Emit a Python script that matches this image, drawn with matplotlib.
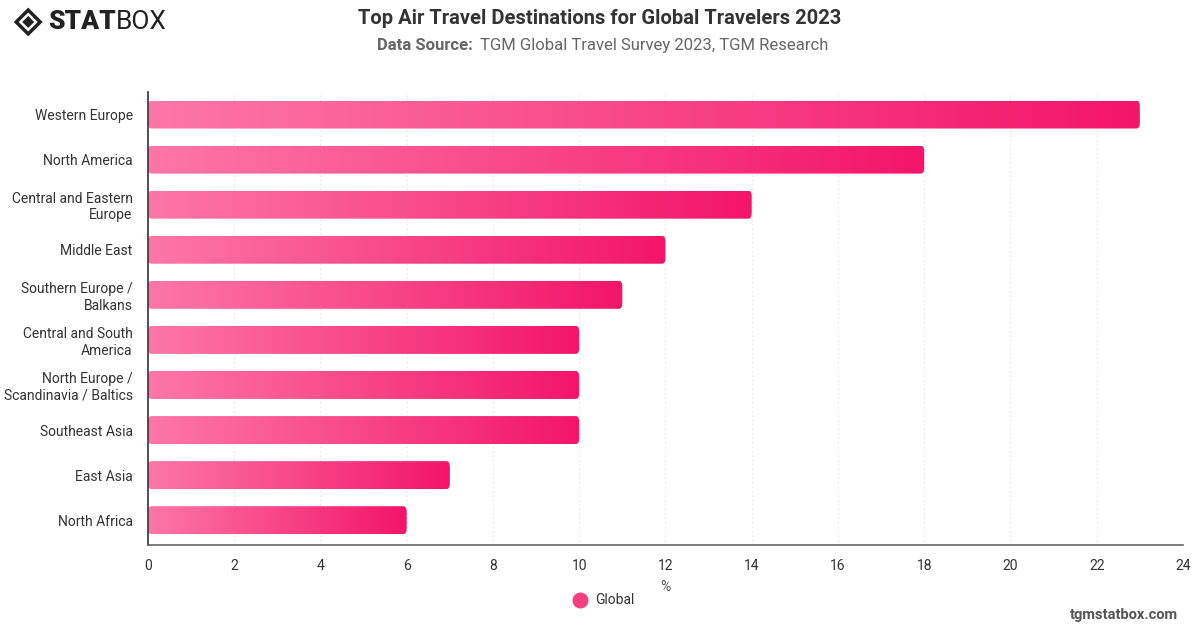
import matplotlib.pyplot as plt
import numpy as np
from matplotlib.colors import LinearSegmentedColormap
from matplotlib.patches import FancyBboxPatch, Polygon

categories = ["Western Europe", "North America", "Central and Eastern\nEurope", "Middle East",
              "Southern Europe /\nBalkans", "Central and South\nAmerica", "North Europe /\nScandinavia / Baltics",
              "Southeast Asia", "East Asia", "North Africa"]
values = [23, 18, 14, 12, 11, 10, 10, 10, 7, 6]
xticks = [0, 2, 4, 6, 8, 10, 12, 14, 16, 18, 20, 22, 24]

plt.rcParams['font.family'] = ['Roboto', 'DejaVu Sans']

fig = plt.figure(figsize=(12, 6.28), dpi=100)
ax = fig.add_axes([0.1233, 0.1322, 0.8625, 0.7213])

cmap = LinearSegmentedColormap.from_list("pinks", ["#fd77a6", "#f3156a"])
grad = np.linspace(0, 1, 256).reshape(1, -1)
bar_h = 0.62

for i, v in enumerate(values):
    # gradient fill clipped to a slightly rounded bar
    patch = FancyBboxPatch((0, i - bar_h / 2), v, bar_h,
                           boxstyle="round,pad=0,rounding_size=0.08",
                           mutation_aspect=1.6,
                           facecolor="none", edgecolor="none")
    ax.add_patch(patch)
    im = ax.imshow(grad, cmap=cmap, aspect="auto",
                   extent=[0, v, i + bar_h / 2, i - bar_h / 2], zorder=2)
    im.set_clip_path(patch)

ax.set_xlim(0, 24)
ax.set_ylim(len(values) - 0.45, -0.5)
ax.set_yticks(range(len(categories)))
ax.set_yticklabels(categories, fontsize=10, color="#333333")
ax.set_xticks(xticks)
ax.set_xticklabels([str(t) for t in xticks], fontsize=10, color="#333333")
ax.tick_params(axis="x", length=0, pad=10)
ax.tick_params(axis="y", length=0, pad=11)
ax.set_xlabel("%", fontsize=10, color="#555555", labelpad=5)

ax.grid(axis="x", color="#dddddd", linestyle=(0, (1, 3)), linewidth=0.8, zorder=0)
ax.set_axisbelow(True)
for s in ["top", "right"]:
    ax.spines[s].set_visible(False)
ax.spines["left"].set_color("#333333")
ax.spines["left"].set_linewidth(1.2)
ax.spines["bottom"].set_color("#666666")
ax.spines["bottom"].set_linewidth(1.2)

# titles
fig.text(0.5, 0.971, "Top Air Travel Destinations for Global Travelers 2023",
         ha="center", va="center", fontsize=14.5, fontweight="bold", color="#333333")
fig.text(0.314, 0.928, "Data Source:", ha="left", va="center", fontsize=12,
         fontweight="bold", color="#666666")
fig.text(0.4, 0.928, "TGM Global Travel Survey 2023, TGM Research", ha="left", va="center",
         fontsize=12, color="#666666")

# legend
ax.scatter([], [], s=110, color="#f53f80", label="Global")
leg = fig.legend(loc="center", bbox_to_anchor=(0.5, 0.045), frameon=False, fontsize=10,
                 handletextpad=0.1)
for txt in leg.get_texts():
    txt.set_color("#333333")

# logo
logo = Polygon([[0.0135, 0.965], [0.0235, 0.984], [0.0335, 0.965], [0.0235, 0.946]],
               closed=True, transform=fig.transFigure, facecolor="none",
               edgecolor="#222222", linewidth=2.5)
fig.patches.append(logo)
inner = Polygon([[0.0185, 0.965], [0.0235, 0.9745], [0.0285, 0.965], [0.0235, 0.9555]],
                closed=True, transform=fig.transFigure, facecolor="#222222", edgecolor="none")
fig.patches.append(inner)
stat = fig.text(0.040, 0.965, "STAT", ha="left", va="center", fontsize=19, fontweight="black",
                color="#222222")
fig.canvas.draw()
bb = stat.get_window_extent().transformed(fig.transFigure.inverted())
fig.text(bb.x1, 0.965, "BOX", ha="left", va="center", fontsize=19, color="#222222")

fig.text(0.982, 0.02, "tgmstatbox.com", ha="right", va="center", fontsize=10.5,
         fontweight="bold", color="#555555")

fig.savefig("out.png", dpi=100)
